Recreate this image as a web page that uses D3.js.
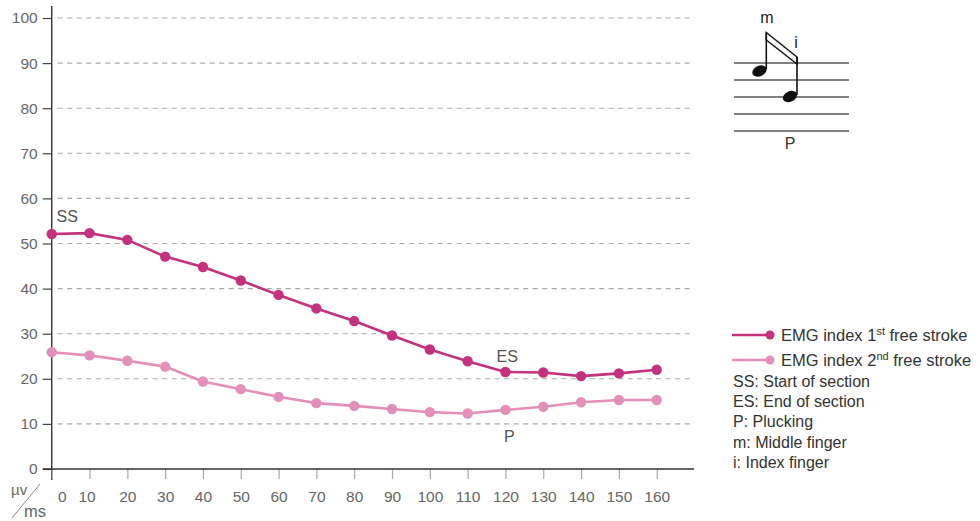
<!DOCTYPE html>
<html>
<head>
<meta charset="utf-8">
<script src="https://cdn.jsdelivr.net/npm/d3@7"></script>
<style>
  html, body { margin: 0; padding: 0; background: #fff; }
  svg { display: block; font-family: "Liberation Sans", Arial, sans-serif; }
</style>
</head>
<body>
<svg id="chart" width="980" height="521"></svg>
<script>
// Time in ms along the x axis
const times = [0, 10, 20, 30, 40, 50, 60, 70, 80, 90, 100, 110, 120, 130, 140, 150, 160];
// EMG index (µV) of the first and second free stroke
const stroke1 = [52.1, 52.3, 50.8, 47.1, 44.8, 41.8, 38.6, 35.6, 32.8, 29.6, 26.5, 23.9, 21.5, 21.4, 20.6, 21.2, 22.0];
const stroke2 = [25.9, 25.2, 24.0, 22.7, 19.4, 17.7, 16.0, 14.6, 14.0, 13.3, 12.6, 12.3, 13.1, 13.8, 14.8, 15.3, 15.3];
const yTicks = [0, 10, 20, 30, 40, 50, 60, 70, 80, 90, 100];
const seriesNames = ["EMG index 1", "EMG index 2"];
const seriesSup = ["st", "nd"];
const notes = ["SS: Start of section", "ES: End of section", "P: Plucking", "m: Middle finger", "i: Index finger"];

const colors = ["#c4317d", "#e48fb9"];
const svg = d3.select("#chart");

const x = d3.scaleLinear().domain([0, 160]).range([51.7, 656.7]);
const y = d3.scaleLinear().domain([0, 100]).range([469, 18]);

// Dashed horizontal gridlines
svg.append("g").selectAll("line")
  .data(yTicks.filter(d => d > 0))
  .join("line")
  .attr("x1", x(0) + 6).attr("x2", 692)
  .attr("y1", d => y(d)).attr("y2", d => y(d))
  .attr("stroke", "#a9a9a9").attr("stroke-width", 1.1)
  .attr("stroke-dasharray", "5,4.5");

// Y axis
const yAxis = d3.axisLeft(y).tickValues(yTicks).tickSize(9).tickPadding(5);
const gy = svg.append("g").attr("transform", `translate(${x(0)},0)`).call(yAxis);
gy.select(".domain").remove();
gy.selectAll(".tick line").attr("stroke", "#444").attr("stroke-width", 1.2);
gy.selectAll(".tick text").attr("fill", "#666").attr("font-size", 15.5)
  .attr("font-family", "Liberation Sans, Arial, sans-serif");
svg.append("line").attr("x1", x(0)).attr("x2", x(0)).attr("y1", 6).attr("y2", 480)
  .attr("stroke", "#333").attr("stroke-width", 1.4);

// X axis
const xAxis = d3.axisBottom(x).tickValues(times).tickSize(10).tickPadding(12);
const gx = svg.append("g").attr("transform", `translate(0,${y(0)})`).call(xAxis);
gx.select(".domain").remove();
gx.selectAll(".tick line").attr("stroke", "#aaa").attr("stroke-width", 1.2);
gx.selectAll(".tick text").attr("fill", "#666").attr("font-size", 15.5)
  .attr("font-family", "Liberation Sans, Arial, sans-serif")
  .attr("dx", d => d === 0 ? 10 : (d === 10 ? -3 : 0));
svg.append("line").attr("x1", x(0) - 9).attr("x2", 694).attr("y1", y(0)).attr("y2", y(0))
  .attr("stroke", "#333").attr("stroke-width", 1.4);

// Unit label µv / ms
svg.append("text").attr("x", 11).attr("y", 495).attr("fill", "#666").attr("font-size", 15).text("µv");
svg.append("line").attr("x1", 40).attr("y1", 484).attr("x2", 12).attr("y2", 518)
  .attr("stroke", "#888").attr("stroke-width", 1);
svg.append("text").attr("x", 24).attr("y", 517).attr("fill", "#666").attr("font-size", 16.5).text("ms");

// Lines and markers
const line = d3.line().x((d, i) => x(times[i])).y(d => y(d));
[stroke2, stroke1].forEach((vals, k) => {
  const c = k === 0 ? colors[1] : colors[0];
  svg.append("path").datum(vals).attr("d", line)
    .attr("fill", "none").attr("stroke", c).attr("stroke-width", 2.6);
  svg.append("g").selectAll("circle").data(vals).join("circle")
    .attr("cx", (d, i) => x(times[i])).attr("cy", d => y(d)).attr("r", 5.2)
    .attr("fill", c);
});

// Section annotations
svg.append("text").attr("x", 56.5).attr("y", 221.5).attr("fill", "#555").attr("font-size", 16).text("SS");
svg.append("text").attr("x", 496.5).attr("y", 361.5).attr("fill", "#555").attr("font-size", 16).text("ES");
svg.append("text").attr("x", 504).attr("y", 441.5).attr("fill", "#555").attr("font-size", 16).text("P");

// Staff with two beamed notes
const staff = svg.append("g");
[63, 80, 97, 114, 131].forEach(yy => {
  staff.append("line").attr("x1", 734).attr("x2", 849).attr("y1", yy).attr("y2", yy)
    .attr("stroke", "#555").attr("stroke-width", 1.6);
});
staff.append("ellipse").attr("cx", 759.5).attr("cy", 71).attr("rx", 7.5).attr("ry", 5.2)
  .attr("transform", "rotate(-25 759.5 71)").attr("fill", "#111");
staff.append("ellipse").attr("cx", 790).attr("cy", 96.5).attr("rx", 7.5).attr("ry", 5.2)
  .attr("transform", "rotate(-25 790 96.5)").attr("fill", "#111");
staff.append("line").attr("x1", 766.3).attr("x2", 766.3).attr("y1", 69).attr("y2", 32.5)
  .attr("stroke", "#111").attr("stroke-width", 1.6);
staff.append("line").attr("x1", 797).attr("x2", 797).attr("y1", 95).attr("y2", 57)
  .attr("stroke", "#111").attr("stroke-width", 1.6);
staff.append("path")
  .attr("d", "M766.3,32.5 L797,57 L797,64 L766.3,40 Z")
  .attr("fill", "none").attr("stroke", "#111").attr("stroke-width", 1.5);
staff.append("text").attr("x", 767).attr("y", 23).attr("text-anchor", "middle")
  .attr("fill", "#222").attr("font-size", 16).text("m");
staff.append("text").attr("x", 796).attr("y", 48).attr("text-anchor", "middle")
  .attr("fill", "#222").attr("font-size", 16).text("i");
staff.append("text").attr("x", 790).attr("y", 149).attr("text-anchor", "middle")
  .attr("fill", "#333").attr("font-size", 16).text("P");

// Legend
const leg = svg.append("g");
seriesNames.forEach((name, i) => {
  const yy = 335 + i * 25;
  leg.append("line").attr("x1", 732).attr("x2", 770).attr("y1", yy).attr("y2", yy)
    .attr("stroke", colors[i]).attr("stroke-width", 2.6);
  leg.append("circle").attr("cx", 770).attr("cy", yy).attr("r", 4.5).attr("fill", colors[i]);
  const t = leg.append("text").attr("x", 781).attr("y", yy + 5.5).attr("fill", "#333").attr("font-size", 16.5);
  t.append("tspan").text(name);
  t.append("tspan").attr("dy", -6).attr("font-size", 11).text(seriesSup[i]);
  t.append("tspan").attr("dy", 6).text(" free stroke");
});
notes.forEach((n, i) => {
  leg.append("text").attr("x", 733).attr("y", 387 + i * 20.2).attr("fill", "#333")
    .attr("font-size", 16).text(n);
});
</script>
</body>
</html>
